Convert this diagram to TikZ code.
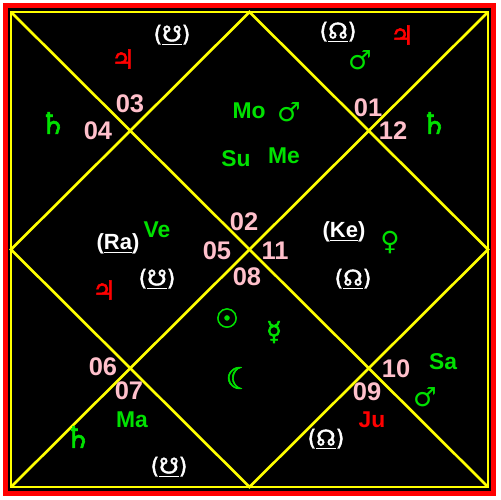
\documentclass[tikz,border=0pt]{standalone}
\usepackage{fontspec}
\setmainfont{Liberation Sans}
\newfontfamily\astro{DejaVu Sans}
\newfontfamily\astrobold{DejaVu Sans}[FakeBold=2]
\definecolor{chartgreen}{RGB}{0,225,0}
\definecolor{chartpink}{RGB}{255,192,203}
\definecolor{chartyellow}{RGB}{255,255,0}
\definecolor{chartred}{RGB}{255,0,0}
\tikzset{
  houseno/.style={text=chartpink,inner sep=0pt,font=\bfseries\fontsize{14.5}{15}\selectfont},
  planet/.style={text=chartgreen,inner sep=0pt,font=\bfseries\fontsize{13}{14}\selectfont},
  sym/.style={text=chartgreen,inner sep=0pt,font=\astro\fontsize{15}{16}\selectfont},
  boldsym/.style={text=chartgreen,inner sep=0pt,font=\astrobold\fontsize{15}{16}\selectfont},
  nodetext/.style={text=white,inner sep=0pt,font=\bfseries\fontsize{12.5}{13}\selectfont},
  nodesym/.style={text=white,inner sep=0pt,font=\astrobold\fontsize{12.5}{13}\selectfont},
  chartline/.style={draw=chartyellow,line width=1.5pt}
}

\begin{document}
\begin{tikzpicture}[x=0.02cm,y=-0.02cm]
  \useasboundingbox (0,0) rectangle (500,500);
  \fill[white] (0,0) rectangle (500,500);
  \fill[chartred] (3,3) rectangle (496,496);
  \fill[black] (8,8) rectangle (491,491);
  % corners and midpoints of the chart
  \coordinate (tl) at (11,12);
  \coordinate (tr) at (488,12);
  \coordinate (br) at (488,487);
  \coordinate (bl) at (11,487);
  \coordinate (mt) at (249.5,12);
  \coordinate (mr) at (488,249.5);
  \coordinate (mb) at (249.5,487);
  \coordinate (ml) at (11,249.5);
  \draw[chartline] (tl) -- (tr) -- (br) -- (bl) -- cycle;
  \draw[chartline] (tl) -- (br);
  \draw[chartline] (tr) -- (bl);
  \draw[chartline] (mt) -- (mr) -- (mb) -- (ml) -- cycle;

  % house numbers
  \node[houseno] (h01) at (368,108) {01};
  \node[houseno] (h02) at (244,222) {02};
  \node[houseno] (h03) at (130,104) {03};
  \node[houseno] (h04) at (98,131) {04};
  \node[houseno] (h05) at (217,251) {05};
  \node[houseno] (h06) at (103,367) {06};
  \node[houseno] (h07) at (129,391) {07};
  \node[houseno] (h08) at (247,277) {08};
  \node[houseno] (h09) at (367,392) {09};
  \node[houseno] (h10) at (396,369) {10};
  \node[houseno] (h11) at (275,251) {11};
  \node[houseno] (h12) at (393,131) {12};

  % planets
  \node[planet] (mo) at (249,111) {Mo};
  \node[planet] (su) at (236,159) {Su};
  \node[planet] (me) at (284,156) {Me};
  \node[planet] (ve) at (157,230) {Ve};
  \node[planet] (ma) at (132,420) {Ma};
  \node[planet] (sa) at (443,362) {Sa};
  \node[planet,text=chartred] (ju) at (372,420) {Ju};
  \node[nodetext] (ra) at (118,244) {(\underline{Ra})};
  \node[nodetext] (ke) at (344,232) {(\underline{Ke})};

  % symbols
  \node[sym] (marsA) at (289,112) {♂};
  \node[sym] (marsB) at (360,60) {♂};
  \node[sym] (marsC) at (425,397) {♂};
  \node[sym] (venus) at (390,243) {♀};
  \node[boldsym,font=\astrobold\fontsize{17}{18}\selectfont] (satA) at (53,123) {♄};
  \node[boldsym,font=\astrobold\fontsize{17}{18}\selectfont] (satB) at (434,123) {♄};
  \node[boldsym,font=\astrobold\fontsize{17}{18}\selectfont] (satC) at (78,437) {♄};
  \node[boldsym,text=chartred] (jupA) at (123,59) {♃};
  \node[boldsym,text=chartred] (jupB) at (402,35) {♃};
  \node[boldsym,text=chartred] (jupC) at (104,290) {♃};
  \node[boldsym] (sun) at (227,318) {☉};
  \node[boldsym] (merc) at (274,332) {☿};
  \node[boldsym,font=\astrobold\fontsize{17}{18}\selectfont] (moon) at (239,378) {☾};
  \node[nodesym] (dnA) at (172,35) {(\underline{☋})};
  \node[nodesym] (dnB) at (157,279) {(\underline{☋})};
  \node[nodesym] (dnC) at (169,467) {(\underline{☋})};
  \node[nodesym] (anA) at (338,32) {(\underline{☊})};
  \node[nodesym] (anB) at (353,279) {(\underline{☊})};
  \node[nodesym] (anC) at (326,439) {(\underline{☊})};
\end{tikzpicture}
\end{document}
